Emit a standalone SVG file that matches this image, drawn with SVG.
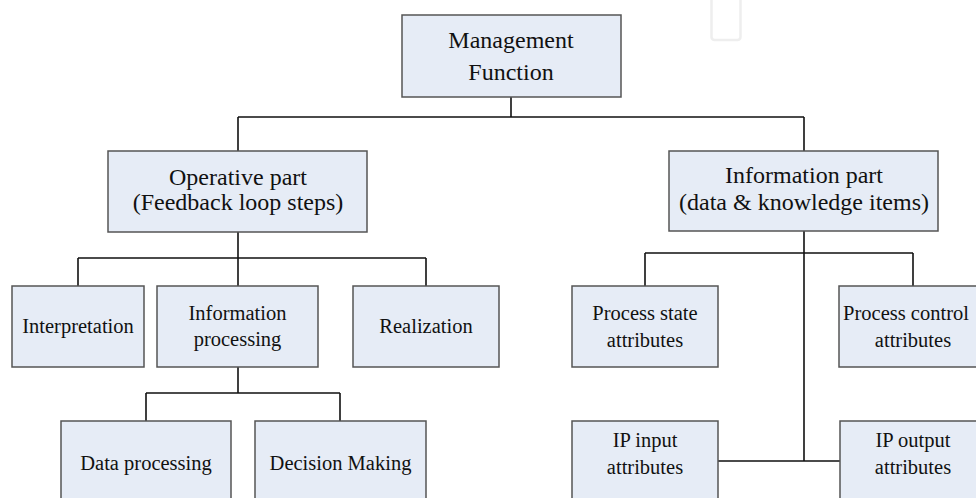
<svg xmlns="http://www.w3.org/2000/svg" width="976" height="498" viewBox="0 0 976 498">
<style>
.box{fill:#e6ecf6;stroke:#555;stroke-width:1.5}
.t1{font-family:"Liberation Serif","Times New Roman",serif;font-size:24px;fill:#111;text-anchor:middle}
.t2{font-family:"Liberation Serif","Times New Roman",serif;font-size:20.5px;fill:#111;text-anchor:middle}
.ln{fill:none;stroke:#111;stroke-width:1.6}
</style>
<rect width="976" height="498" fill="#fff"/>
<rect x="711.5" y="-10" width="29" height="50" rx="3" fill="none" stroke="#eeeeee" stroke-width="2.5"/>
<g id="connectors" class="ln">
<path d="M511 97V117M238 117H804M238 117V151M804 117V151"/>
<path d="M238 232V258M78 258H426M78 258V286M238 258V286M426 258V286"/>
<path d="M238 367V393M146 393H340M146 393V421M340 393V421"/>
<path d="M804 231V461M645 253H913M645 253V286M913 253V286M718 461H840"/>
</g>
<g id="management"><rect class="box" x="402" y="15" width="219" height="82"/><text class="t1" x="511" y="48">Management</text><text class="t1" x="511" y="80">Function</text></g>
<g id="operative"><rect class="box" x="108" y="151" width="259" height="81"/><text class="t1" x="238" y="185">Operative part</text><text class="t1" x="238" y="210">(Feedback loop steps)</text></g>
<g id="information"><rect class="box" x="669" y="151" width="269" height="80"/><text class="t1" x="804" y="183">Information part</text><text class="t1" x="804" y="210">(data &amp; knowledge items)</text></g>
<g id="interpretation"><rect class="box" x="12" y="286" width="132" height="81"/><text class="t2" x="78" y="333">Interpretation</text></g>
<g id="infoproc"><rect class="box" x="157" y="286" width="161" height="81"/><text class="t2" x="237.5" y="320">Information</text><text class="t2" x="237.5" y="346">processing</text></g>
<g id="realization"><rect class="box" x="353" y="286" width="146" height="81"/><text class="t2" x="426" y="333">Realization</text></g>
<g id="dataproc"><rect class="box" x="61" y="421" width="170" height="90"/><text class="t2" x="146" y="470">Data processing</text></g>
<g id="decision"><rect class="box" x="255" y="421" width="171" height="90"/><text class="t2" x="340.5" y="470">Decision Making</text></g>
<g id="pstate"><rect class="box" x="572" y="286" width="146" height="81"/><text class="t2" x="645" y="320">Process state</text><text class="t2" x="645" y="347">attributes</text></g>
<g id="pcontrol"><rect class="box" x="839" y="286" width="148" height="81"/><text class="t2" x="906" y="320">Process control</text><text class="t2" x="913" y="347">attributes</text></g>
<g id="ipinput"><rect class="box" x="572" y="421" width="146" height="90"/><text class="t2" x="645" y="447">IP input</text><text class="t2" x="645" y="474">attributes</text></g>
<g id="ipoutput"><rect class="box" x="840" y="421" width="147" height="90"/><text class="t2" x="913" y="447">IP output</text><text class="t2" x="913" y="474">attributes</text></g>
</svg>
